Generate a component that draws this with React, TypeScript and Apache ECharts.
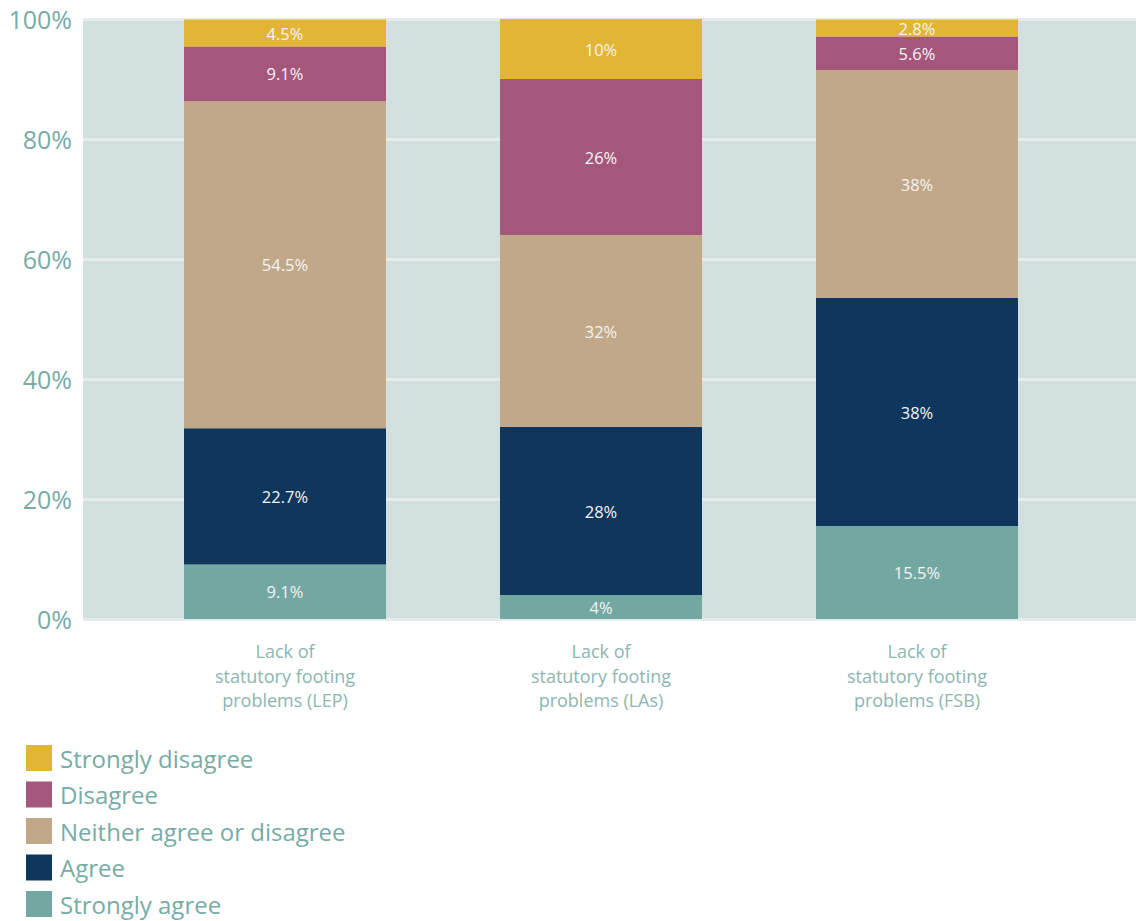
import React, { useEffect, useRef } from "react";
import * as echarts from "echarts";

const categories = [
  "Lack of\nstatutory footing\nproblems (LEP)",
  "Lack of\nstatutory footing\nproblems (LAs)",
  "Lack of\nstatutory footing\nproblems (FSB)",
];
const stronglyAgree = [9.1, 4, 15.5];
const agree = [22.7, 28, 38];
const neither = [54.5, 32, 38];
const disagree = [9.1, 26, 5.6];
const stronglyDisagree = [4.5, 10, 2.8];
const yTicks = [0, 20, 40, 60, 80, 100];

const FONT = "Open Sans";
const TEAL_TEXT = "#76aca5";

export default function App() {
  const ref = useRef<HTMLDivElement>(null);
  useEffect(() => {
    if (!ref.current) return;
    const chart = echarts.init(ref.current, undefined, { renderer: "svg" });
    const mk = (name: string, data: number[], color: string) => ({
      name,
      type: "bar",
      xAxisIndex: 1,
      yAxisIndex: 1,
      stack: "total",
      barWidth: 202,
      data,
      itemStyle: { color },
      label: {
        show: true,
        position: "inside",
        formatter: (p: any) => p.value + "%",
        color: "#f4f4f4",
        fontSize: 16.5,
        fontFamily: FONT,
      },
    });
    chart.setOption({
      animation: false,
      textStyle: { fontFamily: FONT },
      grid: [
        { left: 83, right: 0, top: 19, bottom: 302, show: true, backgroundColor: "#d1e0de", borderWidth: 0 },
        { left: 127, right: 61, top: 19, bottom: 302 },
      ],
      xAxis: [
        { type: "value", gridIndex: 0, show: false, min: 0, max: 1 },
        {
          type: "category",
          gridIndex: 1,
          data: categories,
          axisLine: { show: false },
          axisTick: { show: false },
          axisLabel: { fontSize: 18, lineHeight: 24.5, color: "#8cb6b0", margin: 20, fontFamily: FONT },
        },
      ],
      yAxis: [
        {
          type: "value",
          gridIndex: 0,
          min: yTicks[0],
          max: yTicks[yTicks.length - 1],
          interval: 20,
          axisLine: { show: false },
          axisTick: { show: false },
          axisLabel: { formatter: "{value}%", fontSize: 25, color: TEAL_TEXT, margin: 11, fontFamily: FONT },
          splitLine: { lineStyle: { color: "#e4edeb", width: 3 } },
        },
        { type: "value", gridIndex: 1, min: 0, max: 100, show: false },
      ],
      legend: {
        orient: "vertical",
        left: 26,
        top: 745,
        height: 200,
        padding: 0,
        itemWidth: 26,
        itemHeight: 26,
        itemGap: 10.5,
        icon: "rect",
        data: ["Strongly disagree", "Disagree", "Neither agree or disagree", "Agree", "Strongly agree"],
        textStyle: { fontSize: 24, color: TEAL_TEXT, fontFamily: FONT, padding: [0, 0, 0, 3] },
      },
      series: [
        mk("Strongly agree", stronglyAgree, "#72a8a1"),
        mk("Agree", agree, "#0f365c"),
        mk("Neither agree or disagree", neither, "#c0a888"),
        mk("Disagree", disagree, "#a4577b"),
        mk("Strongly disagree", stronglyDisagree, "#e2b534"),
      ],
    });
    return () => chart.dispose();
  }, []);
  return <div ref={ref} style={{ width: 1136, height: 921, position: "absolute", left: 0, top: 0 }} />;
}
